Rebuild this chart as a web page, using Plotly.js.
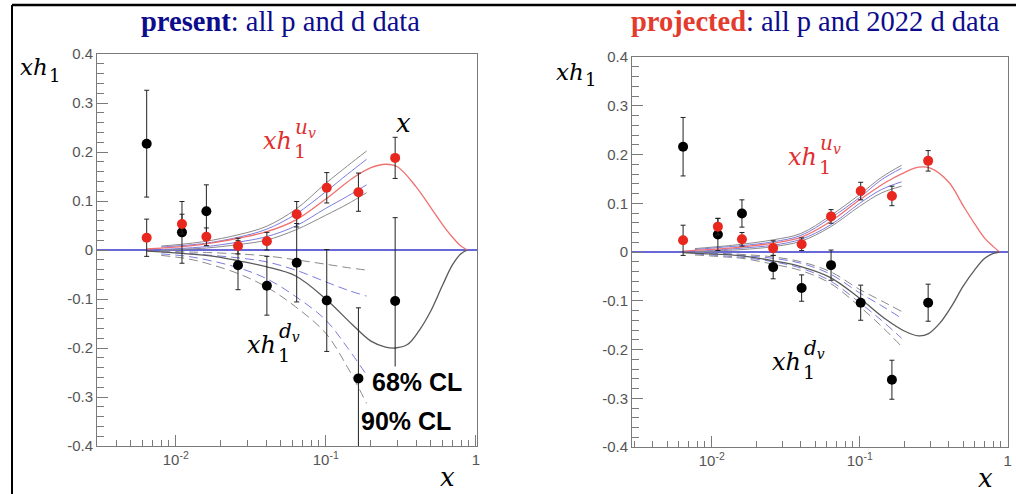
<!DOCTYPE html>
<html>
<head>
<meta charset="utf-8">
<script src="https://cdn.plot.ly/plotly-3.0.1.min.js"></script>
<style>html,body{margin:0;padding:0;background:#fff;}#chart{width:1016px;height:494px;}</style>
</head>
<body>
<div id="chart"></div>
<script>
// ---------------- data ----------------
const xBins = [0.0064, 0.011, 0.016, 0.026, 0.0405, 0.064, 0.1015, 0.165, 0.29];

// present (left panel)
const presUv    = [0.025, 0.053, 0.027, 0.008, 0.018, 0.073, 0.127, 0.118, 0.188];
const presUvErr = [0.038, 0.020, 0.018, 0.016, 0.018, 0.026, 0.031, 0.039, 0.042];
const presDv    = [0.217, 0.036, 0.079, -0.031, -0.073, -0.026, -0.103, -0.262, -0.104];
const presDvErr = [0.109, 0.063, 0.054, 0.050, 0.060, 0.080, 0.104, 0.144, 0.170];

// projected (right panel)
const projUv    = [0.024, 0.052, 0.026, 0.008, 0.016, 0.073, 0.125, 0.115, 0.187];
const projUvErr = [0.031, 0.017, 0.014, 0.015, 0.013, 0.014, 0.018, 0.020, 0.021];
const projDv    = [0.216, 0.036, 0.079, -0.031, -0.074, -0.027, -0.104, -0.262, -0.104];
const projDvErr = [0.060, 0.033, 0.028, 0.024, 0.027, 0.031, 0.036, 0.040, 0.038];

// central curves
const uCx = [0.0064, 0.008, 0.012, 0.018, 0.026, 0.04, 0.063, 0.1, 0.15, 0.2, 0.25, 0.3, 0.4, 0.5, 0.6, 0.7, 0.8, 0.88];
const presUvC = [0.002, 0.004, 0.008, 0.015, 0.024, 0.037, 0.061, 0.104, 0.146, 0.168, 0.175, 0.17, 0.129, 0.087, 0.052, 0.026, 0.0075, 0.0];
const projUvC = [0.002, 0.004, 0.007, 0.012, 0.018, 0.030, 0.062, 0.107, 0.143, 0.163, 0.174, 0.172, 0.143, 0.095, 0.057, 0.028, 0.011, 0.0];
const dCx = [0.0064, 0.008, 0.012, 0.018, 0.026, 0.04, 0.063, 0.1, 0.15, 0.2, 0.25, 0.29, 0.35, 0.42, 0.5, 0.6, 0.7, 0.8, 0.88];
const presDvC = [-0.002, -0.004, -0.008, -0.013, -0.022, -0.034, -0.053, -0.1, -0.152, -0.186, -0.198, -0.2, -0.193, -0.164, -0.125, -0.072, -0.03, -0.007, 0.0];
const projDvC = [-0.001, -0.003, -0.005, -0.01, -0.018, -0.03, -0.052, -0.095, -0.138, -0.162, -0.172, -0.168, -0.145, -0.11, -0.07, -0.036, -0.013, -0.003, 0.0];

// uncertainty band edges (68% blue, 90% grey)
const bxL = [0.008, 0.012, 0.016, 0.026, 0.04, 0.063, 0.1, 0.14, 0.187];
const presU90up = [0.008, 0.013, 0.018, 0.031, 0.048, 0.083, 0.136, 0.172, 0.202];
const presU68up = [0.006, 0.010, 0.014, 0.026, 0.042, 0.073, 0.119, 0.155, 0.185];
const presU68lo = [0.001, 0.004, 0.007, 0.016, 0.027, 0.049, 0.085, 0.110, 0.133];
const presU90lo = [-0.001, 0.002, 0.004, 0.011, 0.020, 0.041, 0.071, 0.094, 0.117];
const presD90up = [-0.002, -0.004, -0.005, -0.008, -0.012, -0.020, -0.029, -0.036, -0.041];
const presD68up = [-0.004, -0.007, -0.010, -0.016, -0.024, -0.041, -0.065, -0.082, -0.094];
const presD68lo = [-0.008, -0.013, -0.020, -0.036, -0.058, -0.095, -0.143, -0.200, -0.255];
const presD90lo = [-0.011, -0.018, -0.027, -0.048, -0.075, -0.116, -0.170, -0.240, -0.313];

const bxR = [0.0077, 0.012, 0.016, 0.026, 0.04, 0.063, 0.1, 0.14, 0.192];
const projU90up = [0.007, 0.012, 0.016, 0.025, 0.038, 0.074, 0.118, 0.153, 0.178];
const projU68up = [0.005, 0.010, 0.013, 0.021, 0.034, 0.069, 0.112, 0.148, 0.172];
const projU68lo = [0.001, 0.005, 0.008, 0.014, 0.026, 0.055, 0.100, 0.128, 0.144];
const projU90lo = [0.000, 0.003, 0.005, 0.011, 0.022, 0.051, 0.094, 0.121, 0.135];
const projD90up = [-0.001, -0.003, -0.005, -0.010, -0.020, -0.040, -0.077, -0.100, -0.122];
const projD68up = [-0.002, -0.004, -0.007, -0.013, -0.023, -0.045, -0.084, -0.110, -0.136];
const projD68lo = [-0.004, -0.008, -0.011, -0.020, -0.033, -0.059, -0.104, -0.140, -0.177];
const projD90lo = [-0.006, -0.010, -0.013, -0.025, -0.038, -0.064, -0.112, -0.152, -0.194];

// tick labels
const xTickVals = [0.01, 0.1, 1];
const xTickText = ['10<sup>-2</sup>', '10<sup>-1</sup>', '1'];
const yTickVals = [-0.4, -0.3, -0.2, -0.1, 0, 0.1, 0.2, 0.3, 0.4];
const yTickText = ['-0.4', '-0.3', '-0.2', '-0.1', '0', '0.1', '0.2', '0.3', '0.4'];

// ---------------- styling ----------------
const W = 1016, H = 494;
const RED = '#e8281e', REDLINE = '#f07070', GREY = '#8a8a8a', BLUE = '#7c7ce0', DARK = '#5a5a5a';
const NAVY = '#0c0c8c';

function line(x, y, color, dash, xa, ya, w) {
  return {x: x, y: y, type: 'scatter', mode: 'lines', xaxis: xa, yaxis: ya,
          line: {color: color, width: w || 1, dash: dash || 'solid', shape: 'spline', smoothing: 1},
          hoverinfo: 'skip'};
}
function pts(x, y, err, color, xa, ya) {
  return {x: x, y: y, type: 'scatter', mode: 'markers', xaxis: xa, yaxis: ya,
          marker: {color: color, size: 10},
          error_y: {type: 'data', array: err, visible: true, color: '#222', thickness: 1, width: 2.5}};
}
const DASH = '9px,5px';
function panel(xa, ya, bx, u90u, u68u, u68l, u90l, d90u, d68u, d68l, d90l, uc, dc, uv, uvE, dv, dvE) {
  return [
    line(bx, u90u, GREY, 'solid', xa, ya), line(bx, u68u, BLUE, 'solid', xa, ya),
    line(bx, u68l, BLUE, 'solid', xa, ya), line(bx, u90l, GREY, 'solid', xa, ya),
    line(bx, d90u, GREY, DASH, xa, ya), line(bx, d68u, BLUE, DASH, xa, ya),
    line(bx, d68l, BLUE, DASH, xa, ya), line(bx, d90l, GREY, DASH, xa, ya),
    line(uCx, uc, REDLINE, 'solid', xa, ya, 1.3), line(dCx, dc, DARK, 'solid', xa, ya, 1.3),
    pts(xBins, dv, dvE, '#000000', xa, ya), pts(xBins, uv, uvE, RED, xa, ya)
  ];
}
const data = [].concat(
  panel('x', 'y', bxL, presU90up, presU68up, presU68lo, presU90lo, presD90up, presD68up, presD68lo, presD90lo,
        presUvC, presDvC, presUv, presUvErr, presDv, presDvErr),
  panel('x2', 'y2', bxR, projU90up, projU68up, projU68lo, projU90lo, projD90up, projD68up, projD68lo, projD90lo,
        projUvC, projDvC, projUv, projUvErr, projDv, projDvErr)
);

const minorX = [];
[0.001, 0.01, 0.1].forEach(function (d) { for (let k = 2; k <= 9; k++) minorX.push(k * d); });

function xaxis(dom, rng, anchor) {
  return {type: 'log', domain: dom, range: rng, anchor: anchor,
          showline: true, mirror: true, linecolor: '#7a7a7a', linewidth: 1,
          ticks: 'inside', ticklen: 11, tickwidth: 1, tickcolor: '#7a7a7a',
          tickvals: xTickVals, ticktext: xTickText,
          minor: {ticks: 'inside', ticklen: 6, tickwidth: 1, tickcolor: '#7a7a7a', tickvals: minorX, showgrid: false},
          showgrid: false, zeroline: false,
          tickfont: {family: 'Liberation Sans, Arial, sans-serif', size: 15, color: '#555'}};
}
function yaxis(dom, anchor) {
  return {domain: dom, range: [-0.4, 0.4], anchor: anchor,
          showline: true, mirror: true, linecolor: '#7a7a7a', linewidth: 1,
          ticks: 'inside', ticklen: 11, tickwidth: 1, tickcolor: '#7a7a7a',
          tickvals: yTickVals, ticktext: yTickText,
          minor: {ticks: 'inside', ticklen: 7, tickwidth: 1, tickcolor: '#7a7a7a', dtick: 0.02, showgrid: false},
          showgrid: false, zeroline: true, zerolinecolor: '#6868d8', zerolinewidth: 1.2,
          tickfont: {family: 'Liberation Sans, Arial, sans-serif', size: 15, color: '#555'}};
}

function A(text, px, py, size, color, xanchor, family, extra) {
  const a = {xref: 'paper', yref: 'paper', x: px / W, y: 1 - py / H, text: text, showarrow: false,
             xanchor: xanchor || 'center', yanchor: 'middle',
             font: {family: family || 'DejaVu Serif, serif', size: size, color: color || '#000'}};
  return Object.assign(a, extra || {});
}
const SERIF = 'Liberation Serif, Times New Roman, serif';
const MATH = 'DejaVu Serif, serif';
const SANS = 'Liberation Sans, Arial, sans-serif';

// compound label  x h_1^{q}
function xh(px, py, color, sup) {
  return [
    A('<i>xh</i>', px, py, 24, color, 'left', MATH),
    A('1', px + 31, py + 10, 19, color, 'left', MATH),
    A('<i>' + sup + '</i>', px + 32, py - 13, 20, color, 'left', MATH)
  ];
}

const annotations = [
  A('<b>present</b>: all p and d data', 280, 21, 28.5, NAVY, 'center', SERIF),
  A('<b><span style="color:#e33b2e">projected</span></b>: all p and 2022 d data', 815, 21, 28.5, NAVY, 'center', SERIF),
  // y titles
  A('<i>xh</i>', 18, 67, 23, '#000', 'left', MATH),
  A('1', 47, 75, 18, '#000', 'left', MATH),
  A('<i>xh</i>', 554, 72, 23, '#000', 'left', MATH),
  A('1', 583, 80, 18, '#000', 'left', MATH),
  // x titles
  A('<i>x</i>', 447, 477, 26, '#000', 'center', MATH),
  A('<i>x</i>', 985, 478, 26, '#000', 'center', MATH),
  // left panel labels
  A('<i>x</i>', 403, 123, 26, '#000', 'center', MATH),
  A('<b>68% CL</b>', 417, 382, 25, '#000', 'center', SANS, {bgcolor: '#ffffff'}),
  A('<b>90% CL</b>', 406, 421, 25, '#000', 'center', SANS)
].concat(
  xh(261, 141, '#e03030', 'u<sub>v</sub>'),
  xh(245, 345, '#000', 'd<sub>v</sub>'),
  xh(786, 157, '#e03030', 'u<sub>v</sub>'),
  xh(770, 362, '#000', 'd<sub>v</sub>')
);

const shapes = [
  {type: 'line', xref: 'paper', yref: 'paper', x0: 12 / W, x1: 1, y0: 1 - 5 / H, y1: 1 - 5 / H, line: {color: '#000', width: 2.5}},
  {type: 'line', xref: 'paper', yref: 'paper', x0: 12 / W, x1: 12 / W, y0: 1 - 5 / H, y1: 0, line: {color: '#000', width: 2}}
];

const layout = {
  width: W, height: H, margin: {l: 0, r: 0, t: 0, b: 0},
  paper_bgcolor: '#ffffff', plot_bgcolor: '#ffffff', showlegend: false,
  xaxis: xaxis([97 / W, 477 / W], [-2.525, 0.008], 'y'),
  yaxis: yaxis([48 / H, 440 / H], 'x'),
  xaxis2: xaxis([632 / W, 1008 / W], [-2.539, 0.002], 'y2'),
  yaxis2: yaxis([47 / H, 437 / H], 'x2'),
  annotations: annotations, shapes: shapes
};

Plotly.newPlot('chart', data, layout, {displayModeBar: false, staticPlot: true});
</script>
</body>
</html>
